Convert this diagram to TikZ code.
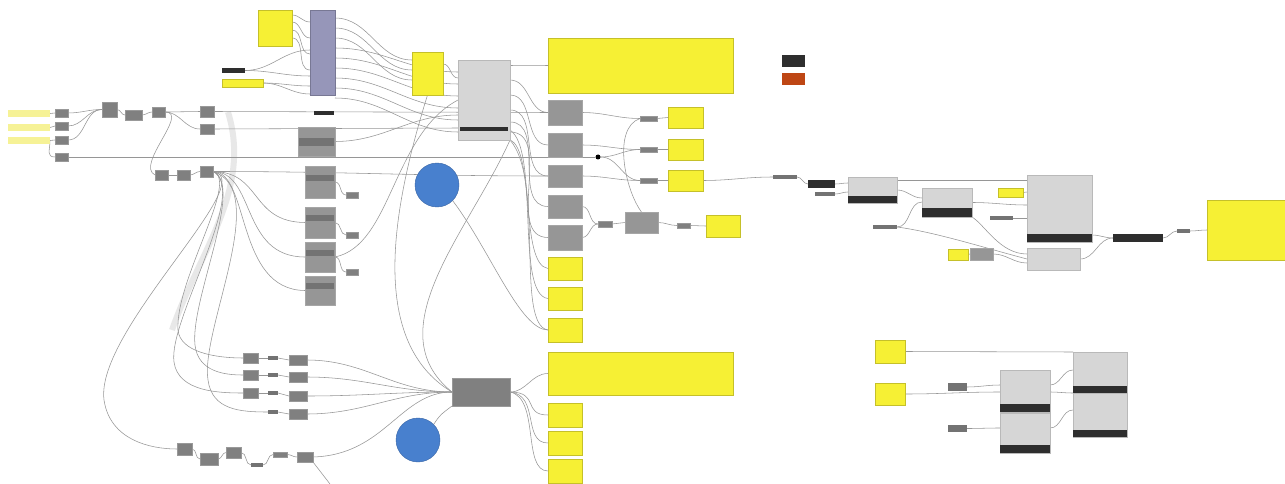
\documentclass[tikz,border=0pt]{standalone}
\usetikzlibrary{calc}
\pgfdeclarelayer{bg}
\pgfsetlayers{bg,main}
\definecolor{pY}{RGB}{246,240,52}
\definecolor{sY}{RGB}{246,242,150}
\definecolor{gS}{RGB}{128,128,128}
\definecolor{gM}{RGB}{150,150,150}
\definecolor{gL}{RGB}{214,214,214}
\definecolor{pu}{RGB}{150,150,185}
\definecolor{bc}{RGB}{72,128,206}
\definecolor{wr}{RGB}{150,150,150}
\definecolor{orr}{RGB}{190,70,20}
\tikzset{
 base/.style={inner sep=0pt,outer sep=0pt,anchor=north west},
 sl/.style={base,fill=sY},
 gb/.style={base,fill=gS,draw=gray!80},
 mg/.style={base,fill=gM,draw=gray!70},
 comp/.style={base,fill=gL,draw=gray!55},
 yp/.style={base,fill=pY,draw=pY!80!black},
 blk/.style={base,fill=black!82},
 dk/.style={base,fill=black!55},
 purp/.style={base,fill=pu,draw=pu!80!black},
 wire/.style={draw=wr,line width=0.55pt},
 bundle/.style={draw=gray!18,line width=6pt},
 bcirc/.style={circle,fill=bc,draw=bc!80!black,inner sep=0pt,minimum size=44pt},
 dot/.style={circle,fill=black,inner sep=0pt,minimum size=5pt},
}
\newcommand\bx[6]{\node[#1,minimum width={(#5-#3)*1pt},minimum height={(#6-#4)*1pt}] (#2) at (#3,#4) {};}
\begin{document}
\begin{tikzpicture}[x=1pt,y=-1pt]
\useasboundingbox (0,0) rectangle (1285,484);
% ---------- left inputs
\bx{sl}{s1}{8}{110}{50}{117}
\bx{sl}{s2}{8}{124}{50}{131}
\bx{sl}{s3}{8}{137}{50}{144}
\bx{gb}{a1}{55}{109}{68}{117}
\bx{gb}{a2}{55}{122}{68}{130}
\bx{gb}{a3}{55}{136}{68}{144}
\bx{gb}{a4}{55}{153}{68}{161}
\bx{gb}{b1}{102}{102}{117}{117}
\bx{gb}{b2}{125}{110}{142}{120}
\bx{gb}{b3}{152}{107}{165}{117}
\bx{gb}{c1}{200}{106}{214}{117}
\bx{gb}{c2}{200}{124}{214}{134}
\bx{gb}{d1}{155}{170}{168}{180}
\bx{gb}{d2}{177}{170}{190}{180}
\bx{gb}{c3}{200}{166}{213}{177}
% ---------- top
\bx{yp}{t1}{258}{10}{292}{46}
\bx{purp}{pb}{310}{10}{335}{95}
\bx{blk}{k1}{222}{68}{245}{73}
\bx{yp}{t2}{222}{79}{263}{87}
\bx{yp}{t3}{412}{52}{443}{95}
\bx{comp}{C1}{458}{60}{510}{140}
\bx{blk}{C1b}{460}{127}{508}{131}
\bx{yp}{P1}{548}{38}{733}{93}
% ---------- grey column
\bx{mg}{g1}{548}{100}{582}{125}
\bx{mg}{g2}{548}{133}{582}{157}
\bx{mg}{g3}{548}{165}{582}{187}
\bx{mg}{g4}{548}{195}{582}{218}
\bx{mg}{g5}{548}{225}{582}{250}
\bx{yp}{y1}{548}{257}{582}{280}
\bx{yp}{y2}{548}{287}{582}{310}
\bx{yp}{y3}{548}{318}{582}{342}
\bx{yp}{P2}{548}{352}{733}{395}
\bx{yp}{y4}{548}{403}{582}{427}
\bx{yp}{y5}{548}{431}{582}{455}
\bx{yp}{y6}{548}{459}{582}{483}
% ---------- outputs
\bx{yp}{o1}{668}{107}{703}{128}
\bx{yp}{o2}{668}{139}{703}{160}
\bx{yp}{o3}{668}{170}{703}{191}
\bx{gb}{r1}{640}{116}{657}{121}
\bx{gb}{r2}{640}{147}{657}{152}
\bx{gb}{r3}{640}{178}{657}{183}
\node[dot] (bd) at (598,157) {};
\bx{gb}{m1}{598}{221}{612}{227}
\bx{mg}{G6}{625}{212}{658}{233}
\bx{gb}{r4}{677}{223}{690}{228}
\bx{yp}{o4}{706}{215}{740}{237}
% ---------- middle column
\bx{blk}{k2}{314}{111}{334}{115}
\bx{mg}{h1}{298}{127}{335}{156}
\bx{dk}{h1s}{299}{138}{334}{146}
\bx{mg}{h2}{305}{166}{335}{198}
\bx{dk}{h2s}{306}{175}{334}{181}
\bx{mg}{h3}{305}{207}{335}{238}
\bx{dk}{h3s}{306}{215}{334}{221}
\bx{mg}{h4}{305}{242}{335}{272}
\bx{dk}{h4s}{306}{250}{334}{256}
\bx{mg}{h5}{305}{276}{335}{305}
\bx{dk}{h5s}{306}{283}{334}{289}
\bx{gb}{q1}{346}{192}{358}{198}
\bx{gb}{q2}{346}{232}{358}{238}
\bx{gb}{q3}{346}{269}{358}{275}
\node[bcirc] (bc1) at (437,185) {};
\node[bcirc] (bc2) at (418,440) {};
% ---------- bottom rows
\bx{gb}{e1}{243}{353}{258}{363}
\bx{gb}{e2}{243}{370}{258}{380}
\bx{gb}{e3}{243}{388}{258}{398}
\bx{dk}{f1}{268}{356}{278}{360}
\bx{dk}{f2}{268}{373}{278}{377}
\bx{dk}{f3}{268}{391}{278}{395}
\bx{dk}{f4}{268}{410}{278}{414}
\bx{gb}{u1}{289}{355}{307}{365}
\bx{gb}{u2}{289}{372}{307}{382}
\bx{gb}{u3}{289}{391}{307}{401}
\bx{gb}{u4}{289}{409}{307}{419}
\bx{gb}{C2}{452}{378}{510}{406}
\bx{gb}{v1}{177}{443}{192}{455}
\bx{gb}{v2}{200}{453}{218}{465}
\bx{gb}{v3}{226}{447}{241}{458}
\bx{dk}{v4}{251}{463}{263}{467}
\bx{gb}{v5}{273}{452}{287}{457}
\bx{gb}{v6}{297}{452}{313}{462}
\coordinate (botc) at (330,484);
% ---------- right
\bx{blk}{O1}{782}{55}{805}{67}
\bx{base,fill=orr}{O2}{782}{73}{805}{85}
\bx{dk}{w1}{773}{175}{797}{179}
\bx{blk}{w2}{808}{180}{835}{188}
\bx{dk}{w3}{815}{192}{835}{196}
\bx{comp}{C3}{848}{177}{897}{203}
\bx{blk}{C3b}{848}{196}{897}{203}
\bx{dk}{w4}{873}{225}{897}{229}
\bx{comp}{C4}{922}{188}{972}{217}
\bx{blk}{C4b}{922}{208}{972}{217}
\bx{yp}{Y7}{998}{188}{1023}{197}
\bx{dk}{w5}{990}{216}{1013}{220}
\bx{yp}{Y8}{948}{249}{968}{260}
\bx{mg}{G7}{970}{248}{993}{260}
\bx{comp}{C5}{1027}{175}{1092}{242}
\bx{blk}{C5b}{1027}{234}{1092}{242}
\bx{comp}{C6}{1027}{248}{1080}{270}
\bx{blk}{K3}{1113}{234}{1163}{242}
\bx{dk}{w6}{1177}{229}{1190}{233}
\bx{yp}{Y9}{1207}{200}{1285}{260}
% ---------- bottom right
\bx{yp}{Y10}{875}{340}{905}{363}
\bx{yp}{Y11}{875}{383}{905}{405}
\bx{dk}{w7}{948}{383}{967}{391}
\bx{dk}{w8}{948}{425}{967}{432}
\bx{comp}{C7}{1000}{370}{1050}{412}
\bx{blk}{C7b}{1000}{404}{1050}{412}
\bx{comp}{C8}{1000}{413}{1050}{453}
\bx{blk}{C8b}{1000}{445}{1050}{453}
\bx{comp}{C9}{1073}{352}{1127}{393}
\bx{blk}{C9b}{1073}{386}{1127}{393}
\bx{comp}{C10}{1073}{393}{1127}{437}
\bx{blk}{C10b}{1073}{430}{1127}{437}
% ================= wires
\begin{pgfonlayer}{bg}
\fill[white] (0,0) rectangle (1285,484);
\draw[bundle] (228,112) .. controls (252,190) and (200,250) .. (172,330);
\draw[wire] (s1.east)--(a1.west);
\draw[wire] (s2.east)--(a2.west);
\draw[wire] (s3.east)--(a3.west);
\draw[wire] (s3.east) .. controls (50,150) and (46,157) .. (a4.west);
\foreach \n in {a1,a2,a3} \draw[wire] (\n.east) to[out=0,in=180] (b1.west);
\draw[wire] (b1.east) to[out=0,in=180] (b2.west);
\draw[wire] (b2.east) to[out=0,in=180] (b3.west);
\draw[wire] (b3.east) -- (c1.west);
\draw[wire] (b3.east) to[out=0,in=180] (c2.west);
\draw[wire] (b3.east) .. controls (190,112) and (135,165) .. (d1.west);
\draw[wire] (d1.east)--(d2.west);
\draw[wire] (d2.east) to[out=0,in=180] (c3.west);
\draw[wire] (c1.east) -- (g1.west);
\draw[wire] (a4.east) -- (bd);
\draw[wire] (c2.east) -- ([yshift=-68pt]C1.north west);
\draw[wire] (c3.east) to[out=0,in=180] (g3.west);
\draw[wire] (c3.east) .. controls (262,172) and (250,222) .. (h3.west);
\draw[wire] (c3.east) .. controls (256,172) and (240,257) .. (h4.west);
\draw[wire] (c3.east) .. controls (250,172) and (235,290) .. (h5.west);
\draw[wire] (h1.east) to[out=0,in=180] ([yshift=-55pt]C1.north west);
\draw[wire] (h2.east) to[out=0,in=180] (q1.west);
\draw[wire] (h3.east) to[out=0,in=180] (q2.west);
\draw[wire] (h4.east) to[out=0,in=180] (q3.west);
\draw[wire] (h4.east) .. controls (392,245) and (392,135) .. ([yshift=-40pt]C1.north west);
\draw[wire] (t3.south) .. controls (395,200) and (365,340) .. (C2.west);
% rows
\draw[wire] (c3.east) .. controls (240,180) and (175,280) .. (178,330) .. controls (180,352) and (215,358) .. (e1.west);
\draw[wire] (c3.east) .. controls (245,185) and (190,300) .. (195,345) .. controls (198,372) and (225,375) .. (e2.west);
\draw[wire] (c3.east) .. controls (250,190) and (168,320) .. (174,362) .. controls (178,392) and (220,393) .. (e3.west);
\draw[wire] (c3.east) .. controls (272,190) and (200,330) .. (208,380) .. controls (212,410) and (240,412) .. (f4.west);
\draw[wire] (c3.east) .. controls (262,180) and (95,330) .. (104,400) .. controls (110,440) and (150,449) .. (v1.west);
\foreach \a/\b/\c in {e1/f1/u1,e2/f2/u2,e3/f3/u3} {\draw[wire] (\a.east)--(\b.west); \draw[wire] (\b.east)--(\c.west);}
\draw[wire] (f4.east)--(u4.west);
\foreach \n in {u1,u2,u3,u4} \draw[wire] (\n.east) to[out=0,in=180] (C2.west);
\draw[wire] (v1.east) to[out=0,in=180] (v2.west);
\draw[wire] (v2.east) to[out=0,in=180] (v3.west);
\draw[wire] (v3.east) to[out=0,in=180] (v4.west);
\draw[wire] (v4.east) to[out=0,in=180] (v5.west);
\draw[wire] (v5.east) to[out=0,in=180] (v6.west);
\draw[wire] (v6.east) .. controls (385,455) and (400,392) .. (C2.west);
\draw[wire] (v6.south east) -- (botc);
\draw[wire] (bc2.north east) .. controls (440,415) .. (C2.south west);
\draw[wire] (C2.east) to[out=0,in=180] (P2.west);
\draw[wire] (C2.east) .. controls (540,392) and (522,415) .. (y4.west);
\draw[wire] (C2.east) .. controls (540,395) and (522,443) .. (y5.west);
\draw[wire] (C2.east) .. controls (540,398) and (522,471) .. (y6.west);
% top
\foreach \a/\b in {5/12,12/28,20/44,28/60} \draw[wire] ([yshift=-\a pt]t1.north east) to[out=0,in=180] ([yshift=-\b pt]pb.north west);
\draw[wire] (k1.east) to[out=0,in=180] ([yshift=-40pt]pb.north west);
\draw[wire] (k1.east) to[out=0,in=180] ([yshift=-66pt]pb.north west);
\draw[wire] (t2.east) to[out=0,in=180] ([yshift=-76pt]pb.north west);
\draw[wire] (t2.east) to[out=0,in=180] ([yshift=-84pt]pb.north west);
\foreach \a/\b in {8/8,18/18,28/28} \draw[wire] ([yshift=-\a pt]pb.north east) to[out=0,in=180] ([yshift=-\b pt]t3.north west);
\foreach \a/\b in {38/12,48/24,58/36,68/48,78/60,88/72} \draw[wire] ([yshift=-\a pt]pb.north east) to[out=0,in=180] ([yshift=-\b pt]C1.north west);
\draw[wire] ([yshift=-12pt]t3.north east) to[out=0,in=180] ([yshift=-18pt]C1.north west);
\draw[wire] ([yshift=-5pt]C1.north east) to[out=0,in=180] ([yshift=-27pt]P1.north west);
\foreach \a/\n in {20/g1,35/g2,50/g3,62/g4,72/g5} \draw[wire] ([yshift=-\a pt]C1.north east) to[out=0,in=180] (\n.west);
\draw[wire] ([yshift=-80pt]C1.north east) .. controls (535,150) and (520,265) .. (y1.west);
\draw[wire] ([yshift=-70pt]C1.north east) .. controls (540,150) and (515,295) .. (y2.west);
\draw[wire] (C1.south east) .. controls (545,180) and (515,325) .. (y3.west);
\draw[wire] (C1.south east) .. controls (470,230) and (375,330) .. (C2.west);
\draw[wire] (bc1.south east) .. controls (490,250) and (520,330) .. (y3.west);
% outputs
\draw[wire] (g1.east) to[out=0,in=180] (r1.west);
\draw[wire] (r1.east) -- (o1.west);
\draw[wire] (g2.east) to[out=0,in=180] (r2.west);
\draw[wire] (bd) to[out=0,in=180] (r2.west);
\draw[wire] (bd) to[out=0,in=180] (r3.west);
\draw[wire] (r2.east) -- (o2.west);
\draw[wire] (g3.east) to[out=0,in=180] (r3.west);
\draw[wire] (r3.east) -- (o3.west);
\draw[wire] (r1.west) .. controls (612,128) and (625,190) .. (G6.north);
\draw[wire] (g4.east) to[out=0,in=180] (m1.west);
\draw[wire] (g5.east) to[out=0,in=180] (m1.west);
\draw[wire] (m1.east) -- (G6.west);
\draw[wire] (G6.east) to[out=0,in=180] (r4.west);
\draw[wire] (r4.east) to[out=0,in=180] (o4.west);
% right
\draw[wire] (o3.east) to[out=0,in=180] (w1.west);
\draw[wire] (w1.east) to[out=0,in=180] (w2.west);
\draw[wire] (w2.east) to[out=0,in=180] ([yshift=-6pt]C3.north west);
\draw[wire] (w3.east) to[out=0,in=180] ([yshift=-15pt]C3.north west);
\draw[wire] ([yshift=-3pt]C3.north east) -- ([yshift=-5pt]C5.north west);
\draw[wire] (Y7.east) -- ([yshift=-17pt]C5.north west);
\draw[wire] (C3.east) to[out=0,in=180] ([yshift=-10pt]C4.north west);
\draw[wire] (w4.east) to[out=0,in=180] ([yshift=-14pt]C4.north west);
\draw[wire] (w4.east) .. controls (935,232) and (985,248) .. (C6.west);
\draw[wire] (C4.east) to[out=0,in=180] ([yshift=-30pt]C5.north west);
\draw[wire] (w5.east) -- ([yshift=-43pt]C5.north west);
\draw[wire] (C4.south east) .. controls (985,225) and (1000,254) .. ([yshift=-6pt]C6.north west);
\draw[wire] (Y8.east) -- (G7.west);
\draw[wire] (G7.east) to[out=0,in=180] ([yshift=-15pt]C6.north west);
\draw[wire] ([yshift=-60pt]C5.north east) to[out=0,in=180] (K3.west);
\draw[wire] (C6.east) to[out=0,in=180] (K3.west);
\draw[wire] (K3.east) to[out=0,in=180] (w6.west);
\draw[wire] (w6.east) to[out=0,in=180] (Y9.west);
% bottom right
\draw[wire] (Y10.east) -- (C9.north west);
\draw[wire] (Y11.east) to[out=0,in=180] ([yshift=-22pt]C7.north west);
\draw[wire] ([yshift=-22pt]C7.north east) to[out=0,in=180] (C10.north west);
\draw[wire] (w7.east) to[out=0,in=180] ([yshift=-15pt]C7.north west);
\draw[wire] (w8.east) to[out=0,in=180] ([yshift=-15pt]C8.north west);
\draw[wire] ([yshift=-15pt]C7.north east) to[out=0,in=180] ([yshift=-18pt]C9.north west);
\draw[wire] ([yshift=-15pt]C8.north east) to[out=0,in=180] ([yshift=-17pt]C10.north west);
\end{pgfonlayer}
\end{tikzpicture}
\end{document}
